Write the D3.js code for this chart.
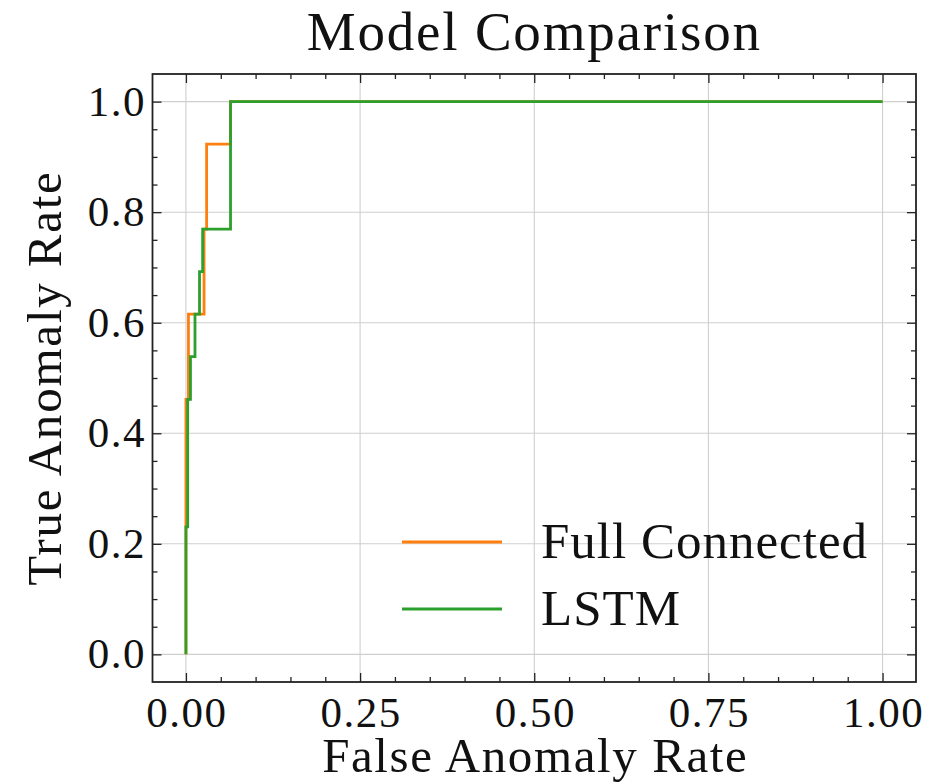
<!DOCTYPE html>
<html>
<head>
<meta charset="utf-8">
<script src="https://cdn.jsdelivr.net/npm/d3@7"></script>
<style>
  html, body { margin: 0; padding: 0; background: #fff; }
  svg { display: block; }
  text { font-family: "Liberation Serif", "DejaVu Serif", serif; fill: #111; }
</style>
</head>
<body>
<svg id="chart" width="938" height="784"></svg>
<script>
// ROC curve vertices (false anomaly rate, true anomaly rate)
const fcFpr   = [0, 0, 0.0036, 0.0036, 0.026, 0.026, 0.0297, 0.0297, 0.064, 0.064, 1];
const fcTpr   = [0, 0.4615, 0.4615, 0.6154, 0.6154, 0.7692, 0.7692, 0.9231, 0.9231, 1, 1];
const lstmFpr = [0, 0, 0.0025, 0.0025, 0.0065, 0.0065, 0.013, 0.013, 0.0195, 0.0195, 0.024, 0.024, 0.064, 0.064, 1];
const lstmTpr = [0, 0.2308, 0.2308, 0.4615, 0.4615, 0.5385, 0.5385, 0.6154, 0.6154, 0.6923, 0.6923, 0.7692, 0.7692, 1, 1];

const seriesNames  = ["Full Connected", "LSTM"];
const seriesColors = ["#ff7f0e", "#2ca02c"];

const xMajorTicks = [0, 0.25, 0.5, 0.75, 1];
const yMajorTicks = [0, 0.2, 0.4, 0.6, 0.8, 1];
const xTickLabels = ["0.00", "0.25", "0.50", "0.75", "1.00"];
const yTickLabels = ["0.0", "0.2", "0.4", "0.6", "0.8", "1.0"];

const titleText = "Model Comparison";
const xLabel = "False Anomaly Rate";
const yLabel = "True Anomaly Rate";

const svg = d3.select("#chart");
const pLeft = 152.5, pRight = 916, pTop = 74, pBottom = 682;

const x = d3.scaleLinear().domain([-0.048, 1.048]).range([pLeft, pRight]);
const y = d3.scaleLinear().domain([-0.05, 1.05]).range([pBottom, pTop]);

const xMinor = d3.range(0, 21).map(i => i * 0.05).filter(v => !xMajorTicks.some(m => Math.abs(m - v) < 1e-9));
const yMinor = d3.range(0, 21).map(i => i * 0.05).filter(v => !yMajorTicks.some(m => Math.abs(m - v) < 1e-9));

// grid
const grid = svg.append("g").attr("stroke", "#cfcfcf").attr("stroke-width", 1.1);
xMajorTicks.forEach(v => grid.append("line")
  .attr("x1", x(v)).attr("x2", x(v)).attr("y1", pTop).attr("y2", pBottom));
yMajorTicks.forEach(v => grid.append("line")
  .attr("x1", pLeft).attr("x2", pRight).attr("y1", y(v)).attr("y2", y(v)));

// curves
const line = d3.line().x(d => x(d[0])).y(d => y(d[1]));
const curves = [d3.zip(fcFpr, fcTpr), d3.zip(lstmFpr, lstmTpr)];
curves.forEach((pts, i) => {
  svg.append("path").datum(pts)
    .attr("d", line)
    .attr("fill", "none")
    .attr("stroke", seriesColors[i])
    .attr("stroke-width", 2.8)
    .attr("stroke-linejoin", "miter");
});

// axes with inward ticks on all four sides
function styleAxis(g) {
  g.select(".domain").remove();
  g.selectAll(".tick line").attr("stroke", "#222").attr("stroke-width", 1.3);
  g.selectAll(".tick text").remove();
}
const majorLen = 9, minorLen = 5;
svg.append("g").attr("transform", `translate(0,${pBottom})`)
  .call(d3.axisBottom(x).tickValues(xMajorTicks).tickSizeInner(-majorLen).tickSizeOuter(0)).call(styleAxis);
svg.append("g").attr("transform", `translate(0,${pBottom})`)
  .call(d3.axisBottom(x).tickValues(xMinor).tickSizeInner(-minorLen).tickSizeOuter(0)).call(styleAxis);
svg.append("g").attr("transform", `translate(0,${pTop})`)
  .call(d3.axisTop(x).tickValues(xMajorTicks).tickSizeInner(-majorLen).tickSizeOuter(0)).call(styleAxis);
svg.append("g").attr("transform", `translate(0,${pTop})`)
  .call(d3.axisTop(x).tickValues(xMinor).tickSizeInner(-minorLen).tickSizeOuter(0)).call(styleAxis);
svg.append("g").attr("transform", `translate(${pLeft},0)`)
  .call(d3.axisLeft(y).tickValues(yMajorTicks).tickSizeInner(-majorLen).tickSizeOuter(0)).call(styleAxis);
svg.append("g").attr("transform", `translate(${pLeft},0)`)
  .call(d3.axisLeft(y).tickValues(yMinor).tickSizeInner(-minorLen).tickSizeOuter(0)).call(styleAxis);
svg.append("g").attr("transform", `translate(${pRight},0)`)
  .call(d3.axisRight(y).tickValues(yMajorTicks).tickSizeInner(-majorLen).tickSizeOuter(0)).call(styleAxis);
svg.append("g").attr("transform", `translate(${pRight},0)`)
  .call(d3.axisRight(y).tickValues(yMinor).tickSizeInner(-minorLen).tickSizeOuter(0)).call(styleAxis);

// frame
svg.append("rect").attr("x", pLeft).attr("y", pTop)
  .attr("width", pRight - pLeft).attr("height", pBottom - pTop)
  .attr("fill", "none").attr("stroke", "#222").attr("stroke-width", 1.8);

// tick labels
const tickFont = 43;
svg.append("g").selectAll("text").data(xMajorTicks).join("text")
  .attr("x", d => x(d) + 1).attr("y", 727)
  .attr("text-anchor", "middle").attr("font-size", tickFont)
  .attr("letter-spacing", 1.5)
  .text((d, i) => xTickLabels[i]);
svg.append("g").selectAll("text").data(yMajorTicks).join("text")
  .attr("x", 146).attr("y", d => y(d) + 14)
  .attr("text-anchor", "end").attr("font-size", tickFont)
  .attr("letter-spacing", 1.5)
  .text((d, i) => yTickLabels[i]);

// title and axis labels
svg.append("text").attr("x", (pLeft + pRight) / 2).attr("y", 50)
  .attr("text-anchor", "middle").attr("font-size", 55)
  .attr("letter-spacing", 1.8).text(titleText);
svg.append("text").attr("x", (pLeft + pRight) / 2 + 1).attr("y", 772)
  .attr("text-anchor", "middle").attr("font-size", 49)
  .attr("letter-spacing", 1.6).text(xLabel);
svg.append("text")
  .attr("transform", `translate(61,${(pTop + pBottom) / 2}) rotate(-90)`)
  .attr("text-anchor", "middle").attr("font-size", 49)
  .attr("letter-spacing", 1.8).text(yLabel);

// legend
const legend = svg.append("g");
seriesNames.forEach((name, i) => {
  const ly = 542 + i * 67;
  legend.append("line").attr("x1", 402).attr("x2", 502).attr("y1", ly).attr("y2", ly)
    .attr("stroke", seriesColors[i]).attr("stroke-width", 3);
  legend.append("text").attr("x", 541).attr("y", ly + 16)
    .attr("font-size", 51).attr("letter-spacing", 1).text(name);
});
</script>
</body>
</html>
